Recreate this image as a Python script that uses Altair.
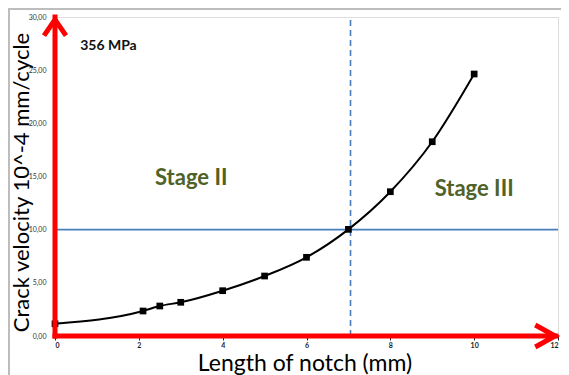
import altair as alt
import pandas as pd

# Data
notch_len = [0.0, 2.1, 2.5, 3.0, 4.0, 5.0, 6.0, 7.0, 8.0, 9.0, 10.0]
velocity = [1.15, 2.35, 2.82, 3.17, 4.26, 5.64, 7.40, 10.03, 13.57, 18.27, 24.64]

x_ticks = [0, 2, 4, 6, 8, 10, 12]
y_ticks = [0, 5, 10, 15, 20, 25, 30]

stage_limit_x = 7.05
stage_limit_y = 10.0

labels_txt = ["Stage II", "Stage III"]
labels_x = [3.25, 10.0]
labels_y = [14.9, 13.8]

FONT = "Lato"
W, H = 503, 319

df = pd.DataFrame({"x": notch_len, "y": velocity})

xs = alt.Scale(domain=[0, 12], nice=False, zero=False)
ys = alt.Scale(domain=[0, 30], nice=False, zero=False)

x_axis = alt.Axis(
    values=x_ticks, format="d", grid=False, domain=False,
    tickSize=4, tickColor="#222", labelFontSize=7, labelFontWeight="bold",
    labelColor="#222", labelFont=FONT, labelPadding=1,
    title="Length of notch (mm)", titleFont=FONT, titleFontSize=23,
    titleFontWeight="normal", titleColor="#000", titleBaseline="alphabetic",
    titleY=34, titleX=W / 2 - 2,
)
y_axis = alt.Axis(
    values=y_ticks, grid=False, domain=False, ticks=False,
    labelExpr="replace(format(datum.value, '.2f'), '.', ',')",
    labelFontSize=7, labelColor="#333", labelFont=FONT, labelPadding=9,
    title="Crack velocity 10^-4  mm/cycle", titleFont=FONT, titleFontSize=22,
    titleFontWeight="normal", titleColor="#000", titleBaseline="alphabetic",
    titleX=-26.5, titleY=165,
)

base = alt.Chart(df)

# outer light-grey frame
frame = base.mark_rect(filled=False, stroke="#bdbdbd", strokeWidth=1.5).encode(
    x=alt.value(-46), x2=alt.value(700), y=alt.value(-8.5), y2=alt.value(700)
)

curve = base.mark_line(color="black", strokeWidth=2, interpolate="monotone").encode(
    x=alt.X("x:Q", scale=xs, axis=x_axis),
    y=alt.Y("y:Q", scale=ys, axis=y_axis),
)
pts = base.mark_point(shape="square", filled=True, color="black", size=45, opacity=1).encode(
    x=alt.X("x:Q", scale=xs), y=alt.Y("y:Q", scale=ys)
)

hline = alt.Chart(pd.DataFrame({"y": [stage_limit_y], "x0": [0], "x1": [12]})).mark_rule(
    color="#4a7ebb", strokeWidth=1.6
).encode(x=alt.X("x0:Q", scale=xs), x2="x1:Q", y=alt.Y("y:Q", scale=ys))

vline = alt.Chart(pd.DataFrame({"x": [stage_limit_x], "y0": [0], "y1": [30]})).mark_rule(
    color="#4a7ebb", strokeWidth=1.6, strokeDash=[6, 4]
).encode(x=alt.X("x:Q", scale=xs), y=alt.Y("y0:Q", scale=ys), y2="y1:Q")

# red arrow axes
red_v = alt.Chart(pd.DataFrame({"x": [0], "y0": [0], "y1": [30]})).mark_rule(
    color="#ff0000", strokeWidth=5, strokeCap="square"
).encode(x=alt.X("x:Q", scale=xs), y=alt.Y("y0:Q", scale=ys), y2="y1:Q")
red_h = alt.Chart(pd.DataFrame({"y": [0], "x0": [0], "x1": [11.95]})).mark_rule(
    color="#ff0000", strokeWidth=5, strokeCap="square"
).encode(x=alt.X("x0:Q", scale=xs), x2="x1:Q", y=alt.Y("y:Q", scale=ys))

head_up = alt.Chart(pd.DataFrame({"x": [0], "y": [29.75]})).mark_point(
    shape="M-1,1.45L0,0L1,1.45", filled=False, stroke="#ff0000", strokeWidth=5,
    size=484, opacity=1, strokeJoin="miter"
).encode(x=alt.X("x:Q", scale=xs), y=alt.Y("y:Q", scale=ys))
head_right = alt.Chart(pd.DataFrame({"x": [11.93], "y": [0]})).mark_point(
    shape="M-1.8,-1L0,0L-1.8,1", filled=False, stroke="#ff0000", strokeWidth=5,
    size=484, opacity=1, strokeJoin="miter"
).encode(x=alt.X("x:Q", scale=xs), y=alt.Y("y:Q", scale=ys))

stage_txt = alt.Chart(pd.DataFrame({"t": labels_txt, "x": labels_x, "y": labels_y})).mark_text(
    font=FONT, fontSize=22, fontWeight="bold", color="#4f6228"
).encode(x=alt.X("x:Q", scale=xs), y=alt.Y("y:Q", scale=ys), text="t:N")

mpa_txt = alt.Chart(pd.DataFrame({"t": ["356 MPa"], "x": [0.6], "y": [27.3]})).mark_text(
    font=FONT, fontSize=14, fontWeight="bold", color="#111", align="left"
).encode(x=alt.X("x:Q", scale=xs), y=alt.Y("y:Q", scale=ys), text="t:N")

chart = alt.layer(
    frame, hline, vline, curve, pts, red_v, red_h, head_up, head_right, stage_txt, mpa_txt
).properties(
    width=W, height=H,
    autosize=alt.AutoSizeParams(type="none"),
    padding={"left": 47, "top": 9, "right": 3, "bottom": 42},
).configure_view(
    stroke="#111", strokeWidth=1.4
).configure(background="white")

chart.save("out.html", embed_options={"renderer": "svg", "actions": False})
